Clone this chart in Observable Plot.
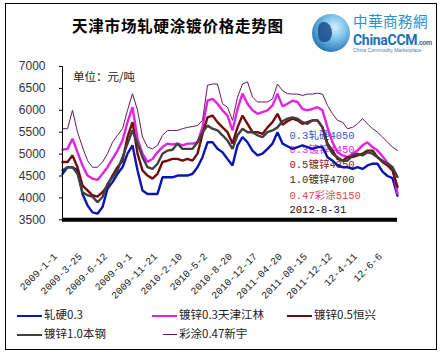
<!DOCTYPE html>
<html><head><meta charset="utf-8">
<script src="https://cdn.jsdelivr.net/npm/d3@7"></script>
<script src="https://cdn.jsdelivr.net/npm/@observablehq/plot@0.6"></script>
<style>
body{margin:0;background:#fff;}
#wrap{position:relative;width:444px;height:356px;overflow:hidden;font-family:"Noto Sans CJK SC",sans-serif;}
#border{position:absolute;left:5px;top:3px;width:432px;height:347px;border:1px solid #000;box-sizing:border-box;}
#chart{position:absolute;left:0;top:0;}
.abs{position:absolute;white-space:nowrap;line-height:1;}
#title{left:72px;top:18px;font-size:15.5px;font-weight:bold;color:#000;letter-spacing:0.8px;}
#unit{left:73px;top:71px;font-size:11.5px;color:#222;}
.lg{position:absolute;font-size:11.5px;color:#222;white-space:nowrap;line-height:1;}
.lg i{display:inline-block;width:25px;vertical-align:middle;margin-right:2px;}
</style></head>
<body>
<div id="wrap">
  <div id="chart"></div>
  <div id="border"></div>
  <div class="abs" id="title">天津市场轧硬涂镀价格走势图</div>
  <div class="abs" id="unit">单位：元/吨</div>
  <div class="abs" style="left:312px;top:14px;width:38px;height:38px;border-radius:50%;background:radial-gradient(circle at 60% 35%,#d8f0fb 0%,#7cc3ea 35%,#1f70b5 80%,#17569a 100%);"></div>
  <div class="abs" style="left:318px;top:22px;width:14px;height:20px;background:#1a4e8a;border-radius:40% 60% 50% 40%;opacity:0.85;"></div>
  <div class="abs" style="left:353px;top:14px;font-size:14.5px;color:#2b8fd3;letter-spacing:0.5px;">中華商務網</div>
  <div class="abs" style="left:353px;top:33px;font-size:14px;font-weight:bold;color:#1d6fb8;font-family:'Liberation Sans Narrow','Roboto',sans-serif;letter-spacing:-0.3px;">ChinaCCM<span style="font-size:7px;">.com</span></div>
  <div class="abs" style="left:353px;top:48px;font-size:5px;color:#4a7fb0;font-family:'Liberation Sans',sans-serif;">China Commodity Marketplace</div>
  <div id="legend"></div>
</div>
<script>
// ---- data ----
const xLabels = ["2009-1-1","2009-3-25","2009-6-12","2009-9-1","2009-11-21","2010-2-10","2010-5-2","2010-8-20","2010-12-17","2011-04-20","2011-08-15","2011-12-12","12-4-11","12-6-6"];
const xLabelIndex = [0,5,10,15,20,25,30,35,40,45,50,55,60,65];
const yTicks = [3500,4000,4500,5000,5500,6000,6500,7000];

const seriesNames = ["轧硬0.3","镀锌0.3天津江林","镀锌0.5恒兴","镀锌1.0本钢","彩涂0.47新宇"];

const rolled03 = [4550,4700,4700,4630,4090,3830,3670,3640,3790,4210,4360,4550,4700,5010,5200,4630,4170,4090,4090,4090,4470,4470,
  4470,
  4510,4510,4510,4550,4700,4930,5270,5270,5120,5040,4890,4740,5200,5390,5270,5080,4970,5010,5120,5240,5500,
  5240,5180,
  5120,5160,5200,5160,5120,5160,5160,4930,4850,4740,4700,4700,4660,4700,4660,4740,4780,4780,4600,4500,4450,4050];

const galv03 = [5100,5120,5350,5040,4740,4510,4440,4410,4550,4700,4890,5080,5310,5730,6070,5350,5010,4820,4890,5040,5160,5240,
  5220,
  5240,5200,5240,5240,5270,5610,6220,6260,6150,6000,5880,5540,6030,6380,6150,6000,5920,5960,6000,6110,6380,
  6090,6150,
  6220,6190,6030,6000,6030,6070,6000,5610,5270,5040,4970,4930,5010,5080,5200,5270,5160,5080,4950,4800,4700,4100];

const galv05 = [4820,4820,4970,4700,4280,4170,4060,4030,4130,4280,4510,4700,4850,5390,5730,5010,4630,4510,4440,4550,4820,4850,
  4890,
  4890,4850,4890,4850,5010,5460,5840,5880,5730,5610,5500,5240,5610,5880,5690,5500,5500,5460,5610,5730,5920,
  5670,5750,
  5810,5770,5690,5730,5770,5770,5610,5240,5080,4890,4850,4930,4930,4970,5010,5080,5080,4930,4820,4740,4630,4250];

const galv10 = [4630,4700,4700,4550,4130,4060,4030,3900,4020,4320,4470,4630,4930,5240,5540,5240,4930,4700,4660,4780,5010,5080,
  5100,
  5240,5120,5120,5120,5270,5500,5650,5580,5540,5430,5310,5120,5430,5580,5500,5500,5430,5390,5500,5540,5610,
  5750,5810,
  5840,5810,5730,5690,5770,5770,5610,5200,5010,4930,4850,4850,4970,5010,4970,5040,5010,4930,4850,4780,4700,4480];

const coated047 = [5580,5580,6000,5500,5160,4850,4700,4700,4820,5010,5270,5430,5580,6000,6380,6000,5390,5160,5120,5200,5430,5540,
  5540,
  5540,5580,5610,5630,5650,5770,6570,6600,6600,6150,6070,5770,6300,6600,6650,6300,6190,6190,6190,6260,6600,
  6450,6380,
  6370,6370,6340,6370,6370,6390,6370,6110,5920,5770,5730,5580,5610,5690,5810,5690,5580,5500,5390,5270,5160,5080];

const noteTexts = ["0.3轧硬4050","0.3镀锌4450","0.5镀锌4350","1.0镀锌4700","0.47彩涂5150","2012-8-31"];
const noteValues = [5430,5100,4760,4420,4060,3740];
const noteX = 45.4;

// ---- styles ----
const colors = ["#0b16b0","#e024e0","#720c0c","#404040","#6a145e"];
const widths = [2.4,2.4,2.4,2.4,1];
const noteColors = ["#3a55c8","#e030e0","#7a2424","#303030","#e04848","#111111"];

const allSeries = [rolled03, galv03, galv05, galv10, coated047];
const n = rolled03.length;

const lineMarks = allSeries.map((arr, k) =>
  Plot.line(arr.map((v, i) => ({i, v})), {x: "i", y: "v", stroke: colors[k], strokeWidth: widths[k], curve: "linear", strokeLinejoin: "miter"})
);

const notes = noteTexts.map((t, k) => ({t, x: noteX, y: noteValues[k], c: noteColors[k]}));

const chart = Plot.plot({
  width: 444,
  height: 356,
  marginLeft: 62,
  marginRight: 47,
  marginTop: 66,
  marginBottom: 136.7,
  style: {background: "transparent", overflow: "visible", color: "#333"},
  x: {domain: [0, n - 1], axis: null},
  y: {domain: [3500, 7000], axis: null},
  marks: [
    Plot.text(notes, {x: "x", y: "y", text: "t", fill: d => d.c, textAnchor: "start", fontSize: 10.5, fontFamily: "'Liberation Mono','Noto Sans CJK SC',monospace"}),
    ...lineMarks,
    Plot.ruleX([0], {y1: 3500, y2: 7000, stroke: "#000", strokeWidth: 1}),
    Plot.ruleY([3500], {x1: 0, x2: n - 1, stroke: "#000", strokeWidth: 4}),
    Plot.axisY({ticks: yTicks, tickSize: 3, tickPadding: 14, fontSize: 12, fontFamily: "'Liberation Sans',sans-serif", tickFormat: d => String(d), label: null, stroke: "#000"}),
    Plot.axisX({ticks: xLabelIndex, tickFormat: d => xLabels[xLabelIndex.indexOf(d)], tickRotate: -45, tickSize: 0, tickPadding: 24, dx: -7, dy: 11, fontSize: 10, fontFamily: "'Liberation Mono',monospace", fill: "#222", label: null})
  ]
});
document.getElementById("chart").appendChild(chart);

// legend
const legendPos = [[17,309],[152,309],[287,309],[17,328],[152,328]];
const lg = document.getElementById("legend");
seriesNames.forEach((name, k) => {
  const d = document.createElement("div");
  d.className = "lg";
  d.style.left = legendPos[k][0] + "px";
  d.style.top = legendPos[k][1] + "px";
  const sw = document.createElement("i");
  sw.style.borderTop = (k === 4 ? 1 : 2.5) + "px solid " + colors[k];
  if (k === 4) { sw.style.width = "14px"; sw.style.marginLeft = "11px"; }
  d.appendChild(sw);
  d.appendChild(document.createTextNode(name));
  lg.appendChild(d);
});
</script>
</body></html>
